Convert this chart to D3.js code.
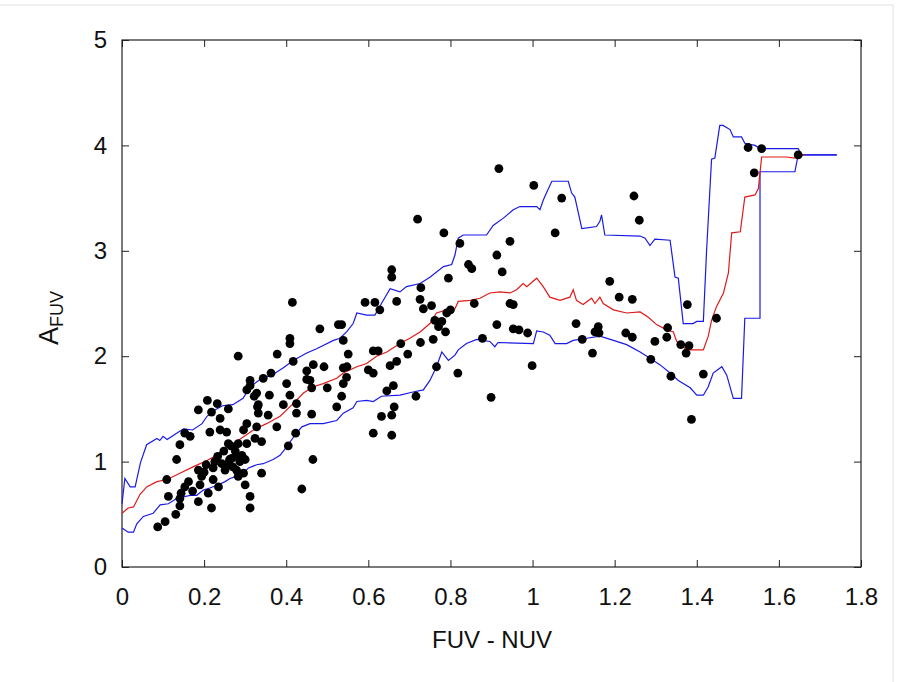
<!DOCTYPE html>
<html>
<head>
<meta charset="utf-8">
<script src="https://cdn.jsdelivr.net/npm/d3@7"></script>
<style>
  body { margin: 0; background: #fff; }
  svg { display: block; font-family: "Liberation Sans", Arial, sans-serif; }
</style>
</head>
<body>
<svg id="chart" width="904" height="682"></svg>
<script>
// A_FUV vs FUV - NUV : scatter of galaxies + running median (red) and 1-sigma envelope (blue)

const xTicks = [0, 0.2, 0.4, 0.6, 0.8, 1, 1.2, 1.4, 1.6, 1.8];
const yTicks = [0, 1, 2, 3, 4, 5];

// galaxies [FUV-NUV, A_FUV]
const points = [
  [0.087,0.38],[0.105,0.43],[0.131,0.50],[0.141,0.58],[0.113,0.67],[0.109,0.83],[0.141,0.65],[0.144,0.70],
  [0.153,0.76],[0.162,0.81],[0.133,1.02],[0.141,1.16],[0.153,1.27],[0.166,1.24],[0.186,1.49],[0.208,1.58],
  [0.232,1.55],[0.218,1.47],[0.259,1.50],[0.239,1.41],[0.214,1.28],[0.239,1.30],[0.255,1.28],[0.186,0.62],
  [0.186,0.92],[0.194,0.86],[0.218,0.56],[0.210,0.70],[0.222,0.83],[0.222,0.94],[0.235,0.76],[0.243,0.98],
  [0.259,0.98],[0.251,0.92],[0.267,1.03],[0.279,1.05],[0.292,1.06],[0.287,1.00],[0.279,0.92],[0.296,0.89],
  [0.300,0.78],[0.312,0.67],[0.312,0.56],[0.304,1.36],[0.328,1.33],[0.324,1.22],[0.340,1.19],[0.296,1.30],
  [0.332,1.54],[0.328,1.65],[0.304,1.68],[0.312,1.77],[0.312,1.72],[0.340,0.89],[0.332,1.46],[0.356,1.44],
  [0.359,1.63],[0.377,1.33],[0.393,1.54],[0.401,1.74],[0.409,1.63],[0.425,1.55],[0.425,1.46],[0.438,0.74],
  [0.200,0.90],[0.205,0.97],[0.226,1.00],[0.233,1.05],[0.262,1.02],[0.270,0.95],[0.276,1.10],[0.283,0.86],
  [0.300,1.02],[0.190,0.78],[0.172,0.72],[0.248,1.10],[0.265,1.15],[0.283,1.17],[0.259,1.17],[0.304,1.17],
  [0.657,2.82],[0.657,2.75],[0.415,2.51],[0.592,2.51],[0.616,2.51],[0.628,2.44],[0.669,2.52],[0.482,2.26],
  [0.527,2.30],[0.535,2.30],[0.409,2.17],[0.409,2.12],[0.539,2.15],[0.283,2.00],[0.378,2.02],[0.417,1.95],
  [0.551,2.02],[0.612,2.05],[0.624,2.05],[0.466,1.92],[0.492,1.90],[0.450,1.86],[0.539,1.89],[0.548,1.90],
  [0.600,1.87],[0.612,1.84],[0.653,1.91],[0.344,1.79],[0.363,1.84],[0.458,1.77],[0.450,1.78],[0.539,1.74],
  [0.547,1.80],[0.462,1.70],[0.322,1.62],[0.500,1.70],[0.535,1.62],[0.661,1.72],[0.645,1.67],[0.330,1.52],
  [0.462,1.45],[0.523,1.52],[0.632,1.43],[0.657,1.44],[0.612,1.27],[0.657,1.25],[0.405,1.15],[0.423,1.27],
  [0.465,1.02],[0.663,1.52],
  [0.918,3.78],[1.003,3.62],[1.071,3.50],[0.720,3.30],[0.784,3.17],[1.055,3.17],[0.823,3.07],[0.945,3.09],
  [0.913,2.96],[0.844,2.87],[0.852,2.83],[0.926,2.80],[0.795,2.74],[0.728,2.65],[0.726,2.54],[0.734,2.45],
  [0.754,2.48],[0.791,2.41],[0.800,2.44],[0.858,2.50],[0.945,2.50],[0.953,2.49],[0.762,2.34],[0.779,2.33],
  [0.771,2.28],[0.788,2.23],[0.913,2.30],[0.953,2.26],[0.967,2.25],[0.988,2.22],[1.106,2.31],[0.679,2.12],
  [0.727,2.13],[0.758,2.16],[0.878,2.17],[0.696,2.02],[0.669,1.95],[0.766,1.90],[0.818,1.84],[0.999,1.91],
  [0.716,1.62],[0.899,1.61],
  [1.525,3.98],[1.558,3.97],[1.540,3.74],[1.247,3.52],[1.260,3.29],[1.188,2.71],[1.211,2.56],[1.243,2.54],
  [1.377,2.49],[1.448,2.36],[1.121,2.16],[1.160,2.28],[1.152,2.23],[1.162,2.22],[1.146,2.03],[1.227,2.22],
  [1.243,2.18],[1.329,2.27],[1.327,2.18],[1.298,2.14],[1.361,2.11],[1.381,2.10],[1.374,2.03],[1.288,1.97],
  [1.337,1.81],[1.416,1.83],[1.387,1.40],[1.647,3.91]
];

// running median
const median = [
  [0,0.51],[0.015,0.56],[0.028,0.57],[0.044,0.69],[0.060,0.76],[0.085,0.81],[0.110,0.83],[0.141,0.89],
  [0.173,0.95],[0.207,1.01],[0.226,1.05],[0.247,1.11],[0.279,1.19],[0.320,1.30],[0.352,1.36],[0.385,1.43],
  [0.417,1.55],[0.442,1.65],[0.466,1.71],[0.490,1.74],[0.523,1.79],[0.539,1.84],[0.572,1.90],[0.596,1.93],
  [0.620,2.00],[0.645,2.04],[0.677,2.12],[0.701,2.17],[0.726,2.23],[0.750,2.31],[0.766,2.41],[0.791,2.44],
  [0.811,2.45],[0.819,2.52],[0.848,2.53],[0.872,2.55],[0.896,2.60],[0.921,2.61],[0.945,2.60],[0.961,2.63],
  [0.977,2.69],[0.986,2.66],[1.010,2.74],[1.026,2.66],[1.042,2.56],[1.067,2.53],[1.091,2.56],[1.099,2.63],
  [1.107,2.53],[1.123,2.49],[1.144,2.55],[1.152,2.50],[1.164,2.56],[1.172,2.50],[1.197,2.44],[1.229,2.41],
  [1.262,2.42],[1.282,2.37],[1.302,2.30],[1.327,2.25],[1.343,2.23],[1.351,2.14],[1.367,2.09],[1.375,2.06],
  [1.416,2.06],[1.428,2.19],[1.436,2.34],[1.448,2.47],[1.465,2.60],[1.477,2.79],[1.485,3.17],[1.506,3.18],
  [1.517,3.51],[1.542,3.53],[1.550,3.59],[1.558,3.89],[1.619,3.89],[1.639,3.88],[1.651,3.91],[1.663,3.91]
];

// upper envelope
const upper = [
  [0,0.60],[0.007,0.84],[0.020,0.76],[0.032,0.76],[0.045,0.99],[0.060,1.16],[0.085,1.22],[0.092,1.20],
  [0.100,1.24],[0.110,1.21],[0.133,1.27],[0.150,1.31],[0.172,1.30],[0.195,1.36],[0.207,1.43],[0.222,1.48],
  [0.245,1.53],[0.270,1.54],[0.295,1.60],[0.312,1.71],[0.340,1.79],[0.365,1.82],[0.393,1.89],[0.417,1.96],
  [0.450,2.03],[0.474,2.07],[0.515,2.15],[0.531,2.17],[0.547,2.23],[0.563,2.31],[0.572,2.41],[0.596,2.39],
  [0.616,2.39],[0.632,2.50],[0.653,2.64],[0.677,2.61],[0.693,2.66],[0.726,2.69],[0.750,2.75],[0.783,2.85],
  [0.803,2.87],[0.811,2.96],[0.819,3.12],[0.831,3.15],[0.888,3.15],[0.904,3.24],[0.929,3.31],[0.953,3.39],
  [0.969,3.42],[1.010,3.42],[1.018,3.39],[1.026,3.48],[1.034,3.55],[1.047,3.66],[1.087,3.66],[1.095,3.55],
  [1.103,3.51],[1.120,3.21],[1.156,3.23],[1.164,3.28],[1.168,3.34],[1.176,3.15],[1.262,3.14],[1.274,3.12],
  [1.286,3.05],[1.298,3.11],[1.335,3.10],[1.347,2.75],[1.355,2.74],[1.367,2.31],[1.391,2.31],[1.400,2.33],
  [1.416,2.33],[1.424,3.01],[1.436,3.87],[1.444,3.88],[1.456,4.19],[1.464,4.19],[1.481,4.15],[1.489,4.08],
  [1.509,4.08],[1.517,4.02],[1.542,4.00],[1.554,3.97],[1.647,3.97],[1.655,3.91],[1.741,3.91]
];

// lower envelope
const lower = [
  [0,0.37],[0.015,0.33],[0.028,0.33],[0.036,0.41],[0.052,0.48],[0.076,0.51],[0.093,0.59],[0.113,0.60],
  [0.133,0.65],[0.166,0.68],[0.182,0.68],[0.198,0.73],[0.214,0.75],[0.235,0.78],[0.251,0.81],[0.263,0.84],
  [0.279,0.86],[0.296,0.89],[0.308,0.94],[0.328,0.97],[0.344,0.98],[0.368,1.02],[0.385,1.06],[0.401,1.14],
  [0.421,1.25],[0.438,1.33],[0.458,1.36],[0.490,1.36],[0.523,1.39],[0.539,1.46],[0.563,1.51],[0.572,1.57],
  [0.596,1.58],[0.612,1.57],[0.632,1.62],[0.677,1.63],[0.709,1.66],[0.734,1.68],[0.750,1.77],[0.766,1.90],
  [0.779,2.04],[0.795,1.96],[0.811,2.01],[0.819,2.06],[0.839,2.12],[0.864,2.16],[0.896,2.14],[0.908,2.09],
  [0.916,2.13],[1.002,2.12],[1.010,2.24],[1.026,2.23],[1.042,2.20],[1.055,2.12],[1.083,2.12],[1.099,2.15],
  [1.132,2.17],[1.164,2.19],[1.197,2.15],[1.229,2.11],[1.262,2.04],[1.286,1.98],[1.310,1.92],[1.335,1.84],
  [1.355,1.77],[1.384,1.70],[1.400,1.63],[1.416,1.63],[1.428,1.71],[1.440,1.84],[1.461,1.90],[1.473,1.82],
  [1.489,1.60],[1.509,1.60],[1.517,2.36],[1.554,2.36],[1.554,3.75],[1.639,3.75],[1.647,3.91],[1.741,3.91]
];

const margin = { top: 40, right: 43, bottom: 115, left: 122 };
const W = 904, H = 682;
const w = W - margin.left - margin.right;
const h = H - margin.top - margin.bottom;

const svg = d3.select('#chart');

// faint page border
svg.append('rect')
  .attr('x', -1).attr('y', 5).attr('width', 894).attr('height', 700)
  .attr('fill', 'none').attr('stroke', '#e2e2e2');

const g = svg.append('g').attr('transform', `translate(${margin.left},${margin.top})`);

const x = d3.scaleLinear().domain([0, 1.8]).range([0, w]);
const y = d3.scaleLinear().domain([0, 5]).range([h, 0]);

const fmt = d => String(d);

// axes, gnuplot style: ticks inside on all four sides
g.append('g').attr('transform', `translate(0,${h})`)
  .call(d3.axisBottom(x).tickValues(xTicks).tickFormat(fmt).tickSizeInner(-7).tickSizeOuter(0).tickPadding(21));
g.append('g')
  .call(d3.axisLeft(y).tickValues(yTicks).tickFormat(fmt).tickSizeInner(-7).tickSizeOuter(0).tickPadding(15));
g.append('g')
  .call(d3.axisTop(x).tickValues(xTicks).tickFormat('').tickSizeInner(-7).tickSizeOuter(0));
g.append('g').attr('transform', `translate(${w},0)`)
  .call(d3.axisRight(y).tickValues(yTicks).tickFormat('').tickSizeInner(-7).tickSizeOuter(0));

g.selectAll('.domain').remove();
g.selectAll('.tick line').attr('stroke', '#222').attr('stroke-width', 1);
g.selectAll('.tick text').attr('fill', '#111').attr('font-size', 24)
  .attr('font-family', '"Liberation Sans", Arial, sans-serif');

g.append('rect')
  .attr('width', w).attr('height', h)
  .attr('fill', 'none').attr('stroke', '#222').attr('stroke-width', 1.2);

// lines
const line = d3.line().x(d => x(d[0])).y(d => y(d[1]));

g.append('path').datum(upper).attr('d', line)
  .attr('fill', 'none').attr('stroke', '#1a1ae6').attr('stroke-width', 1.2);
g.append('path').datum(lower).attr('d', line)
  .attr('fill', 'none').attr('stroke', '#1a1ae6').attr('stroke-width', 1.2);
g.append('path').datum(median).attr('d', line)
  .attr('fill', 'none').attr('stroke', '#e01a1a').attr('stroke-width', 1.2);

// points
g.selectAll('circle.pt').data(points).enter().append('circle')
  .attr('class', 'pt')
  .attr('cx', d => x(d[0])).attr('cy', d => y(d[1]))
  .attr('r', 4.4).attr('fill', '#000');

// axis titles
svg.append('text')
  .attr('x', 492).attr('y', 648)
  .attr('text-anchor', 'middle')
  .attr('font-size', 24).attr('fill', '#111')
  .text('FUV - NUV');

const yt = svg.append('text')
  .attr('transform', 'translate(58,318) rotate(-90)')
  .attr('text-anchor', 'middle')
  .attr('fill', '#111');
yt.append('tspan').attr('font-size', 27).text('A');
yt.append('tspan').attr('font-size', 18).attr('dy', 5).text('FUV');
</script>
</body>
</html>
